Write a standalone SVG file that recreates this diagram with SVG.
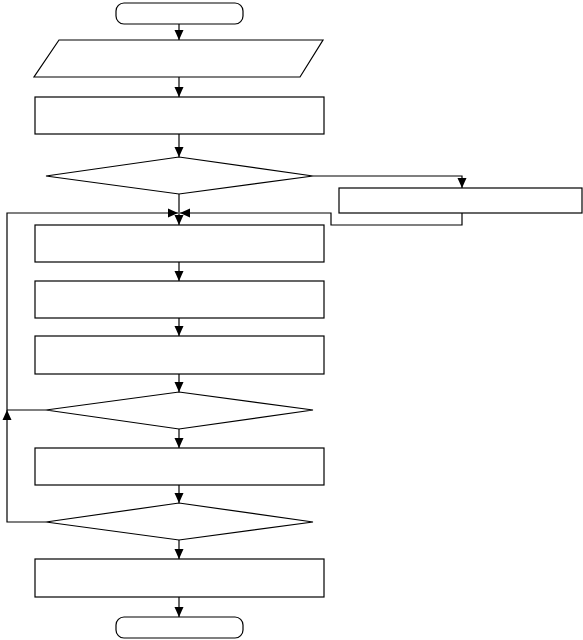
<svg xmlns="http://www.w3.org/2000/svg" width="583" height="640" viewBox="0 0 583 640">
<style>
.s{fill:#fff;stroke:#000;stroke-width:1.2}
.c{fill:none;stroke:#000;stroke-width:1.2;marker-end:url(#a)}
.l{fill:none;stroke:#000;stroke-width:1.2}
</style>
<defs>
<marker id="a" markerUnits="userSpaceOnUse" markerWidth="10" markerHeight="10" viewBox="0 0 10 10" refX="10" refY="5" orient="auto">
<path d="M0,0.5 L10,5 L0,9.5 z" fill="#000"/>
</marker>
</defs>
<rect width="583" height="640" fill="#fff"/>
<g id="start"><rect class="s" x="116" y="3" width="127" height="21" rx="8"/></g>
<g id="input"><polygon class="s" points="59,40 323,40 300,77 34,77"/></g>
<g id="proc1"><rect class="s" x="35" y="97" width="289" height="37"/></g>
<g id="dec1"><polygon class="s" points="179,157 313,176 179,194 46,176"/></g>
<g id="side"><rect class="s" x="339" y="188" width="243" height="25"/></g>
<g id="proc2"><rect class="s" x="35" y="225" width="289" height="37"/></g>
<g id="proc3"><rect class="s" x="35" y="281" width="289" height="37"/></g>
<g id="proc4"><rect class="s" x="35" y="336" width="289" height="38"/></g>
<g id="dec2"><polygon class="s" points="179,392 313,410 179,429 46,410"/></g>
<g id="proc5"><rect class="s" x="35" y="448" width="289" height="37"/></g>
<g id="dec3"><polygon class="s" points="179,503 313,522 179,540 46,522"/></g>
<g id="proc6"><rect class="s" x="35" y="559" width="289" height="38"/></g>
<g id="end"><rect class="s" x="116" y="617" width="127" height="21" rx="8"/></g>
<g id="connectors">
<path class="c" d="M179,24 V40"/>
<path class="c" d="M179,77 V97"/>
<path class="c" d="M179,134 V157"/>
<path class="c" d="M179,194 V225"/>
<path class="c" d="M313,176 H462 V188"/>
<path class="c" d="M462,213 V225 H331 V213 H180"/>
<path class="c" d="M46,410 H7 V213 H178"/>
<path class="c" d="M179,262 V281"/>
<path class="c" d="M179,318 V336"/>
<path class="c" d="M179,374 V392"/>
<path class="c" d="M179,429 V448"/>
<path class="c" d="M179,485 V503"/>
<path class="c" d="M46,522 H7 V410"/>
<path class="c" d="M179,540 V559"/>
<path class="c" d="M179,597 V617"/>
</g>
</svg>
